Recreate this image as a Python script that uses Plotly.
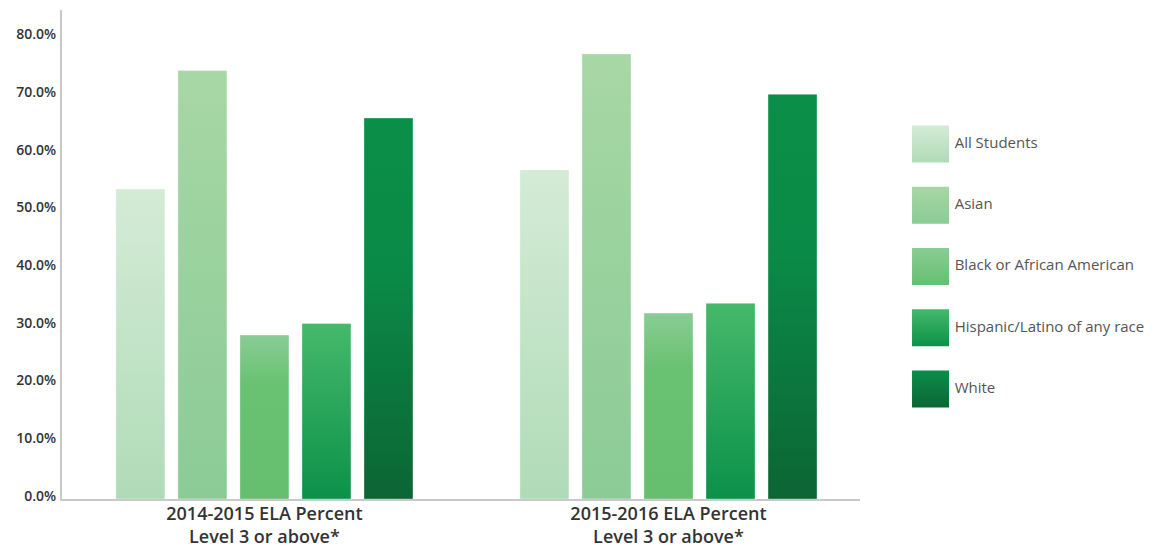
import plotly.graph_objects as go

# Chart data
groups = ["2014-2015 ELA Percent<br>Level 3 or above*",
          "2015-2016 ELA Percent<br>Level 3 or above*"]
series = ["All Students", "Asian", "Black or African American",
          "Hispanic/Latino of any race", "White"]
all_students = [53.7, 57.0]
asian = [74.2, 77.1]
black = [28.4, 32.2]
hispanic = [30.4, 33.9]
white = [66.0, 70.1]
values = [all_students, asian, black, hispanic, white]
y_ticks = [0, 10, 20, 30, 40, 50, 60, 70, 80]
y_tick_labels = [f"{t:.1f}%" for t in y_ticks]

# Vertical gradient per series (bottom -> top)
gradients = [
    [[0, "#b0dbb8"], [1, "#d4ebd6"]],
    [[0, "#8bcb96"], [1, "#a7d7a5"]],
    [[0, "#66bf6f"], [0.7, "#69c172"], [1, "#8acc95"]],
    [[0, "#0b914a"], [1, "#45b96a"]],
    [[0, "#0c6535"], [0.6, "#0a8a46"], [1, "#0a8f48"]],
]
top_colors = [g[-1][1] for g in gradients]
bottom_colors = [g[0][1] for g in gradients]

BAR_W = 0.1213
STEP = 0.1535
n = len(series)

fig = go.Figure()

# Bars: one filled rectangle per value, shaded with a vertical gradient
for j, (name, vals) in enumerate(zip(series, values)):
    for g, v in enumerate(vals):
        xc = g + (j - (n - 1) / 2) * STEP
        x0, x1 = xc - BAR_W / 2, xc + BAR_W / 2
        fig.add_trace(go.Scatter(
            x=[x0, x0, x1, x1, x0], y=[0, v, v, 0, 0],
            mode="lines", fill="toself",
            line=dict(width=1, color="rgba(255,255,255,0.35)"),
            fillgradient=dict(type="vertical", colorscale=gradients[j]),
            name=name, showlegend=False, hoverinfo="skip",
        ))

# Legend: gradient squares with labels on a side axis
fig.add_trace(go.Scatter(
    x=[0] * n, y=[n - 1 - j for j in range(n)],
    xaxis="x2", yaxis="y2",
    mode="markers+text",
    text=series, textposition="middle right",
    textfont=dict(family="Open Sans", size=15, color="#555555"),
    marker=dict(symbol="square", size=37, color=top_colors,
                gradient=dict(type="vertical", color=bottom_colors),
                line=dict(width=0)),
    showlegend=False, hoverinfo="skip",
))

axis_line = "#c9c9c9"
fig.update_layout(
    width=1155, height=548,
    margin=dict(l=62, r=0, t=10, b=49, autoexpand=False),
    paper_bgcolor="white", plot_bgcolor="white",
    showlegend=False,
    xaxis=dict(
        domain=[0, 0.7301], range=[-0.501, 1.474],
        tickvals=[0, 1], ticktext=groups,
        tickfont=dict(family="Open Sans", size=18, color="#333333", weight=600),
        showgrid=False, zeroline=False,
        showline=True, linecolor=axis_line, linewidth=2,
        ticks="", ticklabelstandoff=-3, automargin=False, fixedrange=True,
    ),
    yaxis=dict(
        range=[0, 84.7],
        tickvals=y_ticks, ticktext=y_tick_labels,
        tickfont=dict(family="Open Sans", size=14, color="#333333", weight=600),
        showgrid=False, zeroline=False,
        showline=True, linecolor=axis_line, linewidth=2,
        ticks="", ticklabelstandoff=1, ticklabelshift=-3,
        automargin=False, fixedrange=True,
    ),
    xaxis2=dict(domain=[0.7777, 1.0], range=[-18.5, 224.5], visible=False,
                anchor="y2", fixedrange=True),
    yaxis2=dict(domain=[0, 1], range=[-1.796, 6.188], visible=False,
                anchor="x2", fixedrange=True),
)

fig.write_html("out.html")
